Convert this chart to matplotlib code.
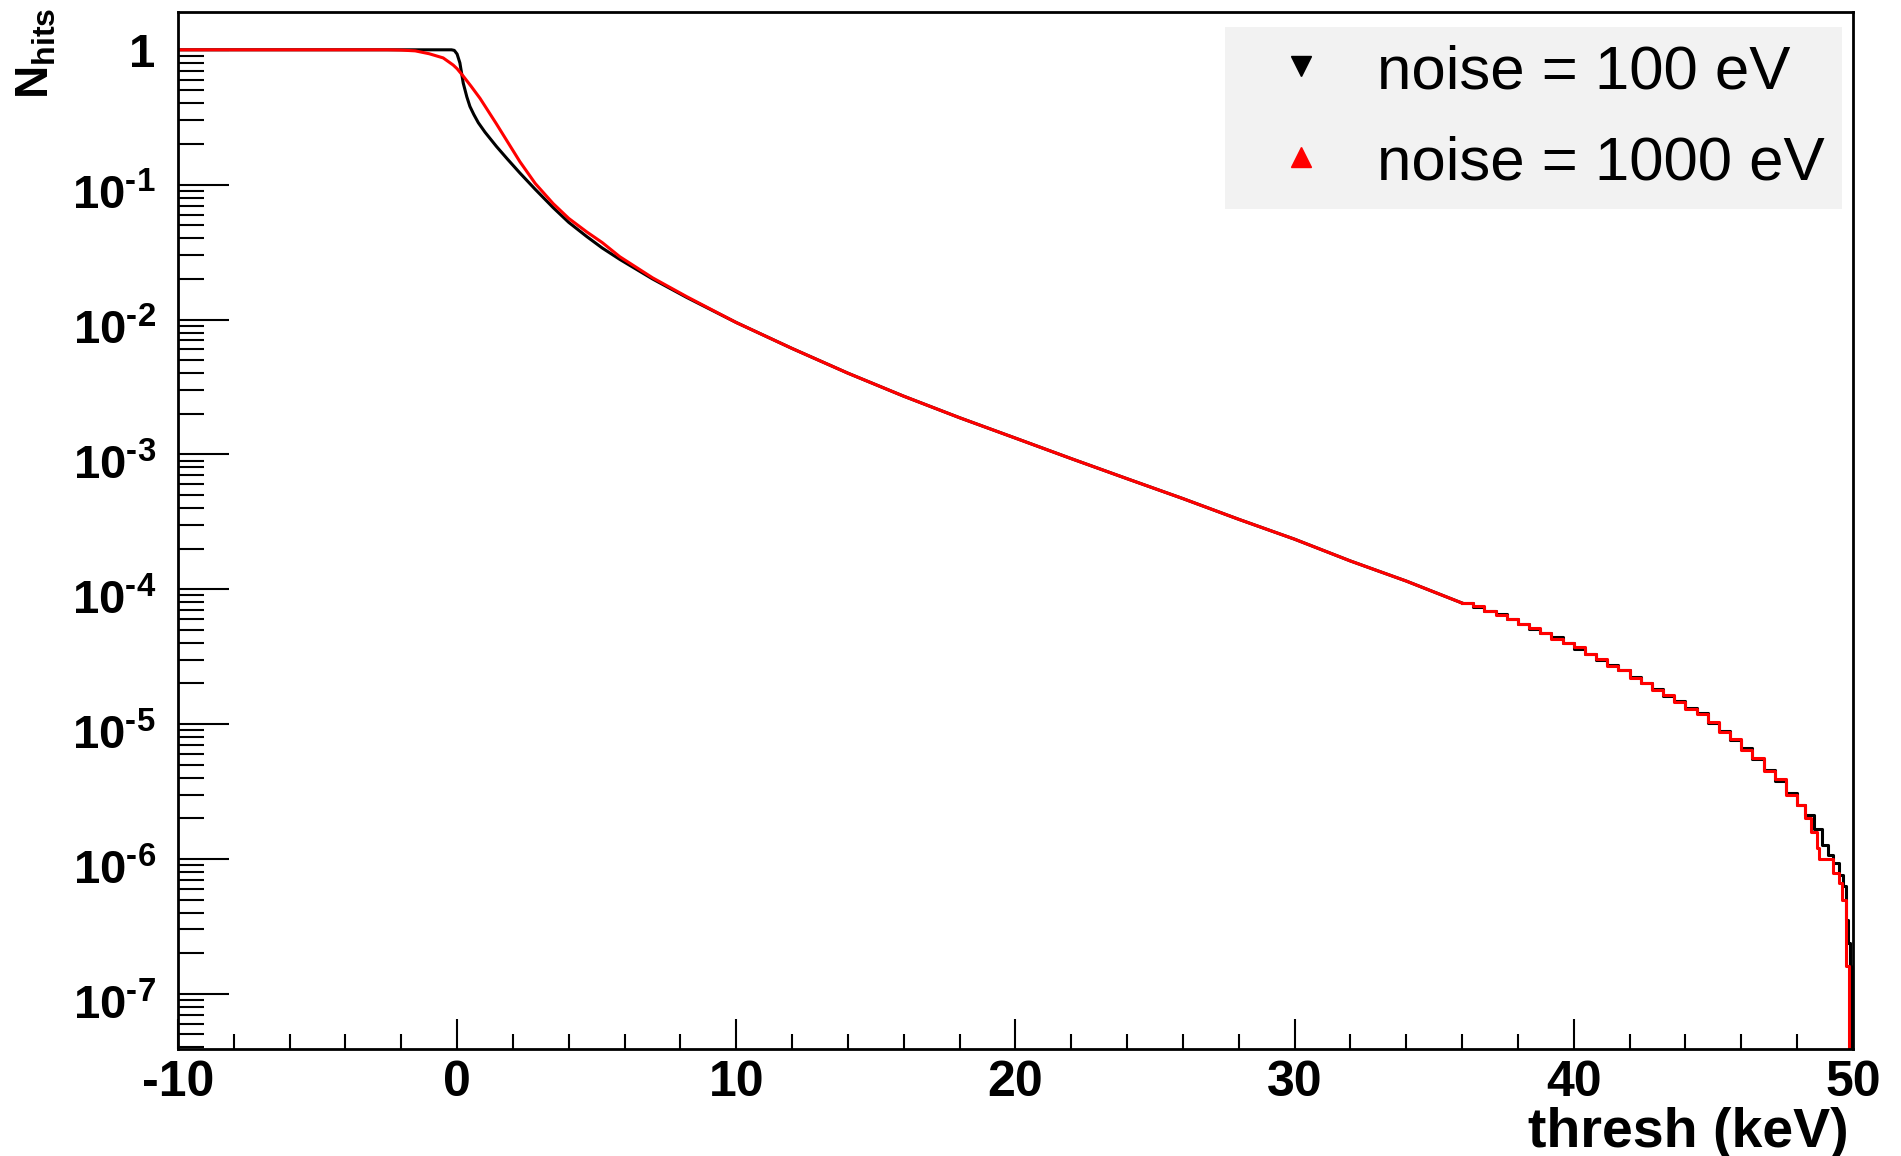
import matplotlib
matplotlib.use('Agg')
import matplotlib.pyplot as plt
import matplotlib.transforms as mtransforms
from matplotlib.lines import Line2D
from matplotlib.ticker import MultipleLocator, LogLocator, NullFormatter

plt.rcParams['font.family'] = ['Liberation Sans', 'DejaVu Sans']
plt.rcParams['mathtext.fontset'] = 'custom'
plt.rcParams['mathtext.rm'] = 'Liberation Sans:bold'
plt.rcParams['mathtext.it'] = 'Liberation Sans:bold'
plt.rcParams['mathtext.bf'] = 'Liberation Sans:bold'
plt.rcParams['axes.unicode_minus'] = False

# fraction of hits above threshold, noise = 100 eV (smooth part)
thresh_100 = [-10, -0.2, -0.1, 0.0, 0.1, 0.22, 0.35, 0.46, 0.6, 0.76, 1.0, 1.41, 1.8, 2.25,
              2.8, 3.44, 4.0, 4.64, 5.2, 5.83, 7.0, 8.22, 10, 12, 14, 16, 18, 20, 22, 24,
              26, 28, 30, 32, 34, 36]
nhits_100 = [1.0, 1.0, 0.99, 0.93, 0.80, 0.566, 0.447, 0.38, 0.331, 0.288, 0.245, 0.192,
             0.155, 0.122, 0.0923, 0.0676, 0.0525, 0.0413, 0.0339, 0.0279, 0.0200, 0.0146,
             0.0095, 0.0061, 0.0040, 0.0027, 0.00187, 0.00132, 9.3e-4, 6.6e-4, 4.7e-4,
             3.3e-4, 2.35e-4, 1.62e-4, 1.15e-4, 7.9e-5]

# noise = 1000 eV (smooth part)
thresh_1000 = [-10, -2.5, -2.0, -1.5, -1.0, -0.5, -0.14, 0.0, 0.22, 0.5, 0.82, 1.1, 1.41, 1.8,
               2.25, 2.8, 3.44, 4.0, 4.64, 5.2, 5.83, 7.0, 8.22, 10, 12, 14, 16, 18, 20, 22,
               24, 26, 28, 30, 32, 34, 36]
nhits_1000 = [1.0, 1.0, 0.995, 0.982, 0.935, 0.871, 0.771, 0.724, 0.638, 0.537, 0.437, 0.355,
              0.282, 0.209, 0.148, 0.102, 0.0724, 0.0562, 0.0447, 0.0372, 0.0292, 0.0204,
              0.0148, 0.0095, 0.0061, 0.0040, 0.0027, 0.00187, 0.00132, 9.3e-4, 6.6e-4,
              4.7e-4, 3.3e-4, 2.35e-4, 1.62e-4, 1.15e-4, 7.9e-5]

# high-threshold tail, binned (left bin edges)
tail_x_100 = [36.0, 36.4, 36.8, 37.2, 37.6, 38.0, 38.4, 38.8, 39.2, 39.6, 40.0, 40.4, 40.8,
              41.2, 41.6, 42.0, 42.4, 42.8, 43.2, 43.6, 44.0, 44.4, 44.8, 45.2, 45.6, 46.0,
              46.4, 46.8, 47.2, 47.6, 48.0, 48.3, 48.6, 48.9, 49.1, 49.3, 49.5, 49.65, 49.75,
              49.82, 49.88, 49.94]
tail_n_100 = [7.9e-5, 7.4e-5, 6.9e-5, 6.5e-5, 6.0e-5, 5.5e-5, 5.1e-5, 4.7e-5, 4.4e-5, 4.0e-5,
              3.6e-5, 3.3e-5, 3.0e-5, 2.75e-5, 2.5e-5, 2.24e-5, 2.0e-5, 1.82e-5, 1.62e-5,
              1.48e-5, 1.32e-5, 1.2e-5, 1.02e-5, 8.9e-6, 7.6e-6, 6.6e-6, 5.5e-6, 4.6e-6,
              3.8e-6, 3.1e-6, 2.5e-6, 2.1e-6, 1.66e-6, 1.26e-6, 1.07e-6, 9.3e-7, 7.6e-7,
              6.3e-7, 3.5e-7, 2.4e-7, 1.6e-7, 0.0]

tail_x_1000 = [36.0, 36.4, 36.8, 37.2, 37.6, 38.0, 38.4, 38.8, 39.2, 39.6, 40.0, 40.4, 40.8,
               41.2, 41.6, 42.0, 42.4, 42.8, 43.2, 43.6, 44.0, 44.4, 44.8, 45.2, 45.6, 46.0,
               46.4, 46.8, 47.2, 47.6, 48.0, 48.3, 48.5, 48.7, 48.8, 49.3, 49.5, 49.6, 49.75,
               49.85]
tail_n_1000 = [7.9e-5, 7.5e-5, 6.9e-5, 6.4e-5, 6.0e-5, 5.5e-5, 5.2e-5, 4.7e-5, 4.3e-5, 4.0e-5,
               3.7e-5, 3.3e-5, 3.05e-5, 2.7e-5, 2.5e-5, 2.2e-5, 2.0e-5, 1.8e-5, 1.64e-5,
               1.46e-5, 1.3e-5, 1.18e-5, 1.04e-5, 8.7e-6, 7.7e-6, 6.4e-6, 5.6e-6, 4.5e-6,
               3.9e-6, 3.0e-6, 2.5e-6, 2.0e-6, 1.58e-6, 1.2e-6, 1.0e-6, 7.9e-7, 6.6e-7,
               5.0e-7, 1.6e-7, 0.0]

x_ticks = [-10, 0, 10, 20, 30, 40, 50]
x_tick_labels = ['-10', '0', '10', '20', '30', '40', '50']
y_ticks = [1e-7, 1e-6, 1e-5, 1e-4, 1e-3, 1e-2, 1e-1, 1.0]
y_tick_labels = [r'$10^{\text{-}7}$', r'$10^{\text{-}6}$', r'$10^{\text{-}5}$', r'$10^{\text{-}4}$',
                 r'$10^{\text{-}3}$', r'$10^{\text{-}2}$', r'$10^{\text{-}1}$', '1']
legend_labels = ['noise = 100 eV', 'noise = 1000 eV']

fig = plt.figure(figsize=(19.01, 11.56), dpi=100)
ax = fig.add_axes([0.0936, 0.0926, 0.8811, 0.8971])

ax.plot(thresh_100, nhits_100, color='black', lw=2.2)
ax.plot(tail_x_100, tail_n_100, color='black', lw=2.2, drawstyle='steps-post')
ax.plot(thresh_1000, nhits_1000, color='red', lw=2.2)
ax.plot(tail_x_1000, tail_n_1000, color='red', lw=2.2, drawstyle='steps-post')

ax.set_yscale('log', nonpositive='clip')
ax.set_xlim(-10, 50)
ax.set_ylim(3.9e-8, 1.91)

ax.set_xticks(x_ticks, x_tick_labels)
ax.xaxis.set_minor_locator(MultipleLocator(2))
ax.set_yticks(y_ticks, y_tick_labels)
ax.yaxis.set_minor_locator(LogLocator(base=10, subs=range(2, 10), numticks=30))
ax.yaxis.set_minor_formatter(NullFormatter())

ax.tick_params(axis='x', which='major', direction='in', length=21.6, width=1.5,
               labelsize=36, pad=8, top=False)
ax.tick_params(axis='x', which='minor', direction='in', length=10.8, width=1.5, top=False)
ax.tick_params(axis='y', which='major', direction='in', length=36.7, width=1.5,
               labelsize=34, pad=16, right=False)
ax.tick_params(axis='y', which='minor', direction='in', length=18.7, width=1.5, right=False)

for lbl in ax.get_xticklabels() + ax.get_yticklabels():
    lbl.set_fontweight('bold')

# push the 10^-n labels down a bit so the tick sits near the top of "10"
shift = mtransforms.ScaledTranslation(0, -5.5 / 72, fig.dpi_scale_trans)
for lbl in ax.get_yticklabels()[:-1]:
    lbl.set_transform(lbl.get_transform() + shift)

for sp in ax.spines.values():
    sp.set_linewidth(2)

handles = [Line2D([], [], ls='none', marker='v', color='black', markersize=14),
           Line2D([], [], ls='none', marker='^', color='red', markersize=14)]
ax.legend(handles, legend_labels, loc='upper left', bbox_to_anchor=(0.625, 0.9855),
          borderaxespad=0, fontsize=44.5, frameon=True, fancybox=False, facecolor='#f2f2f2',
          edgecolor='none', framealpha=1, numpoints=1, handlelength=1.91,
          handletextpad=0.275, borderpad=0.277, labelspacing=0.55)

fig.text(1849 / 1901, 1 - 1147 / 1156, 'thresh (keV)', ha='right', va='baseline',
         fontsize=40, fontweight='bold')
fig.text(15 / 1901, 1 - 8 / 1156, r'$\mathbf{N_{hits}}$', rotation=90, ha='left', va='top',
         fontsize=33)

fig.savefig('out.png', dpi=100)
